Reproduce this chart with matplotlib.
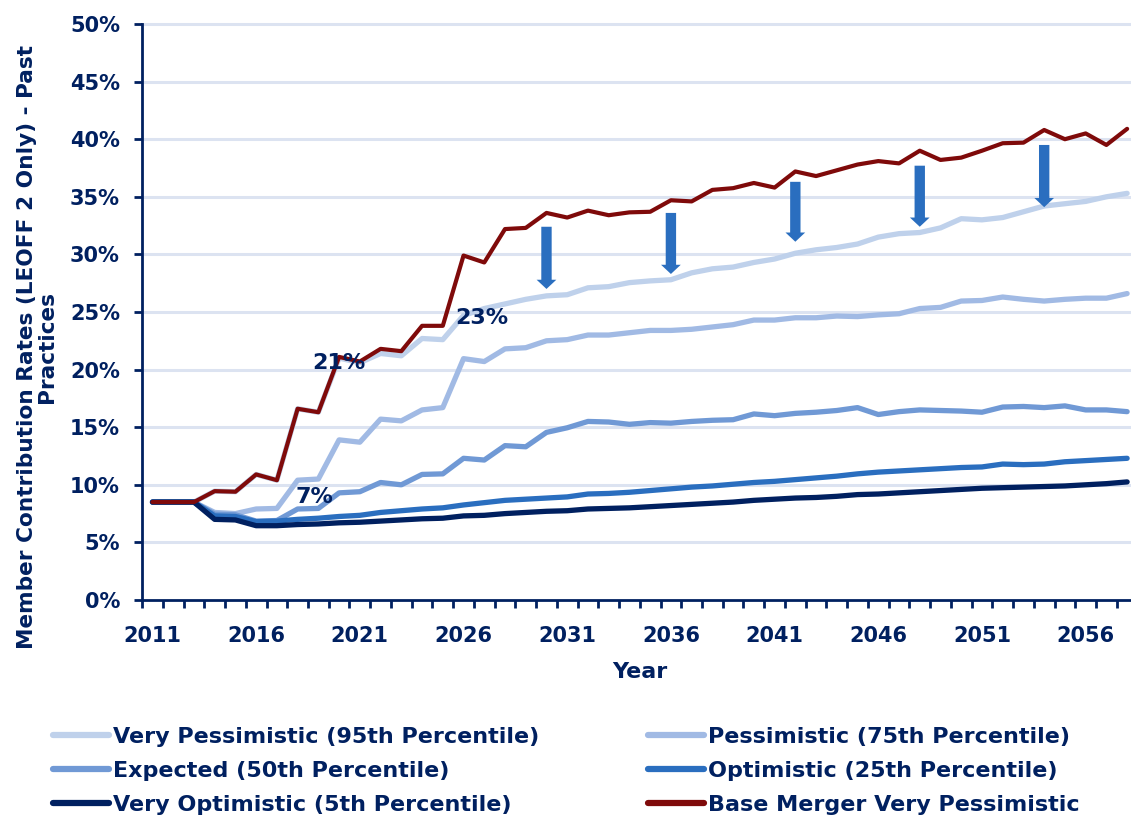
import matplotlib
matplotlib.use("Agg")
import matplotlib.pyplot as plt
import matplotlib.font_manager as fm
from matplotlib.patches import FancyArrow
from matplotlib.ticker import FixedLocator, FuncFormatter

years = list(range(2011, 2059))

very_pessimistic = [8.5, 8.5, 8.5, 9.45, 9.4, 10.9, 10.4, 16.6, 16.3, 21.0, 20.6, 21.4, 21.2, 22.7, 22.6,
                    24.7, 25.3, 25.7, 26.1, 26.4, 26.5, 27.1, 27.2, 27.55, 27.7, 27.8, 28.4, 28.75, 28.9,
                    29.3, 29.6, 30.1, 30.4, 30.6, 30.9, 31.5, 31.8, 31.9, 32.3, 33.1, 33.0, 33.2, 33.7,
                    34.2, 34.4, 34.6, 35.0, 35.3]
pessimistic = [8.5, 8.5, 8.5, 7.6, 7.5, 7.9, 7.95, 10.4, 10.5, 13.9, 13.7, 15.7, 15.55, 16.5, 16.7,
               20.95, 20.7, 21.8, 21.9, 22.5, 22.6, 23.0, 23.0, 23.2, 23.4, 23.4, 23.5, 23.7, 23.9,
               24.3, 24.3, 24.5, 24.5, 24.65, 24.6, 24.75, 24.85, 25.3, 25.4, 25.95, 26.0, 26.3, 26.1,
               25.95, 26.1, 26.2, 26.2, 26.6]
expected = [8.5, 8.5, 8.5, 7.45, 7.4, 6.85, 6.9, 7.9, 7.95, 9.3, 9.4, 10.2, 10.0, 10.9, 10.95,
            12.3, 12.15, 13.4, 13.3, 14.55, 14.95, 15.5, 15.45, 15.25, 15.4, 15.35, 15.5, 15.6, 15.65,
            16.15, 16.0, 16.2, 16.3, 16.45, 16.7, 16.1, 16.35, 16.5, 16.45, 16.4, 16.3, 16.75, 16.8,
            16.7, 16.85, 16.5, 16.5, 16.35]
optimistic = [8.5, 8.5, 8.5, 7.3, 7.25, 6.8, 6.85, 7.0, 7.1, 7.25, 7.35, 7.6, 7.75, 7.9, 8.0,
              8.25, 8.45, 8.65, 8.75, 8.85, 8.95, 9.2, 9.25, 9.35, 9.5, 9.65, 9.8, 9.9, 10.05,
              10.2, 10.3, 10.45, 10.6, 10.75, 10.95, 11.1, 11.2, 11.3, 11.4, 11.5, 11.55, 11.8, 11.75,
              11.8, 12.0, 12.1, 12.2, 12.3]
very_optimistic = [8.5, 8.5, 8.5, 7.0, 6.95, 6.45, 6.45, 6.55, 6.6, 6.7, 6.75, 6.85, 6.95, 7.05, 7.1,
                   7.3, 7.35, 7.5, 7.6, 7.7, 7.75, 7.9, 7.95, 8.0, 8.1, 8.2, 8.3, 8.4, 8.5,
                   8.65, 8.75, 8.85, 8.9, 9.0, 9.15, 9.2, 9.3, 9.4, 9.5, 9.6, 9.7, 9.75, 9.8,
                   9.85, 9.9, 10.0, 10.1, 10.25]
base_merger = [8.5, 8.5, 8.5, 9.45, 9.4, 10.9, 10.4, 16.6, 16.3, 21.1, 20.7, 21.8, 21.6, 23.8, 23.8,
               29.9, 29.3, 32.2, 32.3, 33.6, 33.2, 33.8, 33.4, 33.65, 33.7, 34.7, 34.6, 35.6, 35.75,
               36.2, 35.8, 37.2, 36.8, 37.3, 37.8, 38.1, 37.9, 39.0, 38.2, 38.4, 39.0, 39.65, 39.7,
               40.8, 40.0, 40.5, 39.5, 40.9]

series_names = ["Very Pessimistic (95th Percentile)", "Pessimistic (75th Percentile)",
                "Expected (50th Percentile)", "Optimistic (25th Percentile)",
                "Very Optimistic (5th Percentile)", "Base Merger Very Pessimistic"]

# annotations: (year, value, text)
labels = [(2020.0, 20.6, "21%"), (2018.8, 8.9, "7%"), (2026.9, 24.5, "23%")]
# arrows: (year, top value, tip value)
arrows = [(2030, 32.4, 27.0), (2036, 33.6, 28.3), (2042, 36.3, 31.1),
          (2048, 37.7, 32.4), (2054, 39.5, 34.1)]

NAVY = "#002060"
colors = ["#BFD1EB", "#A1BAE4", "#7099D5", "#2A6EBF", "#002060", "#7F0A0A"]
widths = [3.8, 3.8, 3.8, 3.8, 3.8, 3.0]

leg_prop = fm.FontProperties(family="DejaVu Sans", weight="bold", size=16)

fig = plt.figure(figsize=(11.31, 8.23), dpi=100)
ax = fig.add_axes([142.1 / 1131, 1 - 600 / 823, (1137.5 - 142.1) / 1131, 576 / 823])

data = [very_pessimistic, pessimistic, expected, optimistic, very_optimistic, base_merger]
handles = []
for vals, c, w, name in zip(data, colors, widths, series_names):
    h, = ax.plot(years, vals, color=c, lw=w, solid_capstyle="round", solid_joinstyle="round",
                 label=name, zorder=3)
    handles.append(h)

ax.set_xlim(2010.5, 2058.5)
ax.set_ylim(0, 50)

for v in range(5, 55, 5):
    ax.axhline(v, color="#DCE3F1", lw=2.2, zorder=1, clip_on=False)

ax.yaxis.set_major_locator(FixedLocator(list(range(0, 55, 5))))
ax.yaxis.set_major_formatter(FuncFormatter(lambda v, p: f"{int(v)}%"))
ax.xaxis.set_major_locator(FixedLocator(list(range(2011, 2059, 5))))
ax.xaxis.set_minor_locator(FixedLocator([y - 0.5 for y in years] + [2058.5]))
ax.tick_params(axis="x", which="major", length=0, labelsize=15, labelcolor=NAVY, pad=19)
ax.tick_params(axis="x", which="minor", length=6, width=2, color=NAVY, direction="out")
ax.tick_params(axis="y", which="major", length=6, width=2, color=NAVY, labelsize=15,
               labelcolor=NAVY, pad=10)
for lab in ax.get_xticklabels() + ax.get_yticklabels():
    lab.set_fontweight("bold")

for s in ["top", "right"]:
    ax.spines[s].set_visible(False)
for s in ["left", "bottom"]:
    ax.spines[s].set_color(NAVY)
    ax.spines[s].set_linewidth(2)
    ax.spines[s].set_zorder(6)

ax.set_xlabel("Year", fontsize=16, fontweight="bold", color=NAVY, labelpad=11)
ax.set_ylabel("Member Contribution Rates (LEOFF 2 Only) - Past\nPractices", fontsize=15.6,
              fontweight="bold", color=NAVY, linespacing=1.0)
ax.yaxis.set_label_coords(-0.0854, 0.439)

for x, y, t in labels:
    ax.text(x, y, t, fontsize=16, fontweight="bold", color=NAVY, ha="center", va="center", zorder=5)

for x, top, tip in arrows:
    ax.add_patch(FancyArrow(x, top, 0, tip - top, width=0.5, head_width=0.95, head_length=0.8,
                            length_includes_head=True, color="#2A6EBF", lw=0, zorder=4))

col_items = [[0, 2, 4], [1, 3, 5]]
col_x = [53, 648]
for items, x0 in zip(col_items, col_x):
    leg = fig.legend([handles[i] for i in items], [series_names[i] for i in items], ncol=1,
                     loc="upper left", bbox_to_anchor=(x0 / 1131, 1 - 727 / 823), frameon=False,
                     prop=leg_prop, handlelength=2.5, handletextpad=0.22, labelspacing=0.63,
                     borderaxespad=0, borderpad=0)
    for t in leg.get_texts():
        t.set_color(NAVY)
    for lh in leg.get_lines():
        lh.set_linewidth(4.5)

fig.savefig("out.png", dpi=100)
